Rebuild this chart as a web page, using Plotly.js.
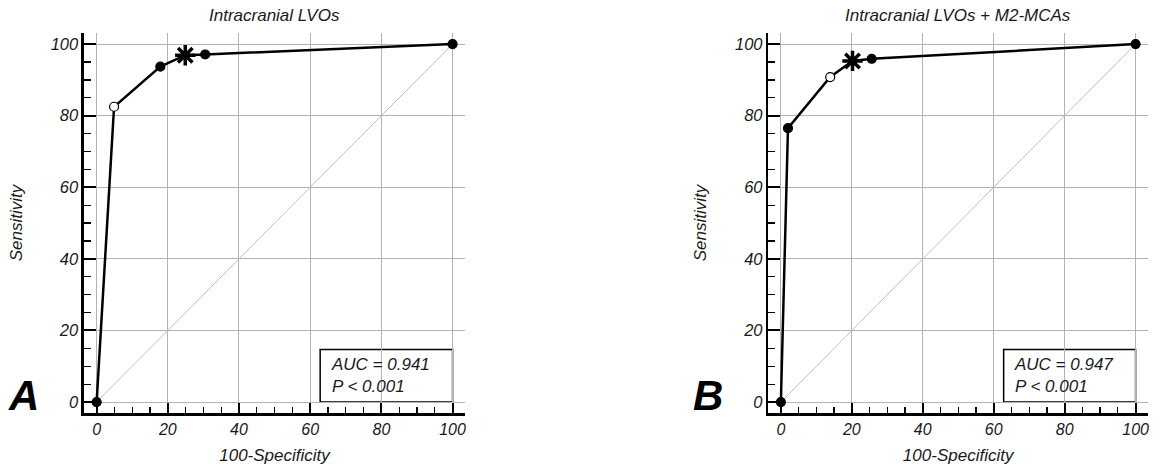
<!DOCTYPE html>
<html>
<head>
<meta charset="utf-8">
<script src="https://cdn.plot.ly/plotly-3.0.1.min.js"></script>
<style>html,body{margin:0;padding:0;background:#fff;}#chart{width:1160px;height:471px;}</style>
</head>
<body>
<div id="chart"></div>
<script>
// ---- data ----
var panelTitles = ["Intracranial LVOs", "Intracranial LVOs + M2-MCAs"];
var panelLetters = ["A", "B"];
var fprA = [0, 4.9, 17.9, 24.9, 30.5, 100];
var sensA = [0, 82.5, 93.7, 96.9, 97.1, 100];
var markA = ["filled", "open", "filled", "star", "filled", "filled"];
var fprB = [0, 2.0, 13.9, 20.2, 25.6, 100];
var sensB = [0, 76.5, 90.8, 95.3, 95.9, 100];
var markB = ["filled", "filled", "open", "star", "filled", "filled"];
var aucText = ["AUC = 0.941", "AUC = 0.947"];
var pText = ["P < 0.001", "P < 0.001"];
var refLine = [0, 100];
var tickVals = [0, 20, 40, 60, 80, 100];

var FONT = "Liberation Sans, Arial, Helvetica, sans-serif";
var INK = "#000";
var TXT = "#1a1a1a";

function symbolOf(m){ return m === "star" ? "asterisk-open" : "circle"; }
function colorOf(m){ return m === "open" ? "#ffffff" : INK; }
function sizeOf(m){ return m === "star" ? 17 : 9; }
function lwOf(m){ return m === "star" ? 3.5 : 1.2; }

function curve(xs, ys, ms, xa, ya){
  return {
    type: "scatter", mode: "lines+markers", x: xs, y: ys, xaxis: xa, yaxis: ya,
    line: {color: INK, width: 2.5},
    marker: {symbol: ms.map(symbolOf), color: ms.map(colorOf), size: ms.map(sizeOf), opacity: 1,
             line: {color: INK, width: ms.map(lwOf)}},
    showlegend: false, hoverinfo: "x+y"
  };
}
function diag(xa, ya){
  return {type: "scatter", mode: "lines", x: refLine, y: refLine, xaxis: xa, yaxis: ya,
    line: {color: "#bdbdbd", width: 1}, showlegend: false, hoverinfo: "skip"};
}

var data = [
  diag("x", "y"), curve(fprA, sensA, markA, "x", "y"),
  diag("x2", "y2"), curve(fprB, sensB, markB, "x2", "y2")
];

function xAxis(dom){
  return {
    domain: dom, range: [-3.55, 103.5], tickvals: tickVals,
    ticks: "inside", ticklen: 10, tickwidth: 2, tickcolor: INK,
    showline: true, linewidth: 2.5, linecolor: INK,
    showgrid: true, gridcolor: "#b3b3b3", gridwidth: 1, zeroline: false,
    minor: {dtick: 5, tick0: 0, ticks: "inside", ticklen: 6, tickwidth: 1.3, tickcolor: INK, showgrid: false},
    tickfont: {family: FONT, size: 16, color: TXT, style: "italic"},
    title: {text: "100-Specificity", font: {family: FONT, size: 17, color: TXT, style: "italic"}, standoff: 13},
    fixedrange: true
  };
}
function yAxis(anchor){
  return {
    domain: [0, 1], range: [-3.05, 103.1], tickvals: tickVals, anchor: anchor,
    ticks: "inside", ticklen: 12, tickwidth: 2, tickcolor: INK,
    showline: true, linewidth: 2.5, linecolor: INK,
    showgrid: true, gridcolor: "#b3b3b3", gridwidth: 1, zeroline: false,
    minor: {dtick: 5, tick0: 0, ticks: "inside", ticklen: 7, tickwidth: 1.3, tickcolor: INK, showgrid: false},
    tickfont: {family: FONT, size: 16.5, color: TXT, style: "italic"},
    title: {text: "Sensitivity", font: {family: FONT, size: 17, color: TXT, style: "italic"}, standoff: 24},
    fixedrange: true
  };
}

var annotations = [];
var shapes = [];
var letterX = [-0.031, 0.5875];
["x", "x2"].forEach(function(xa, i){
  var ya = i === 0 ? "y" : "y2";
  annotations.push({xref: xa + " domain", yref: "paper", x: 0.5, y: 1.045, xanchor: "center", yanchor: "middle",
    text: panelTitles[i], showarrow: false, font: {family: FONT, size: 17, color: TXT, style: "italic"}});
  annotations.push({xref: "paper", yref: "paper", x: letterX[i], y: 0.045, xanchor: "left", yanchor: "middle",
    text: "<b><i>" + panelLetters[i] + "</i></b>", showarrow: false, font: {family: FONT, size: 42, color: "#000"}});
  annotations.push({xref: xa, yref: ya, x: 65.3, y: 7.4, xanchor: "left", yanchor: "middle", align: "left",
    text: aucText[i] + "<br>" + pText[i], showarrow: false,
    font: {family: FONT, size: 17, color: TXT, style: "italic"}});
  shapes.push({type: "rect", xref: xa, yref: ya, x0: 62.8, x1: 100, y0: 0, y1: 14.7,
    line: {color: INK, width: 1.5}, fillcolor: "rgba(255,255,255,1)", layer: "below"});
});

var layout = {
  width: 1160, height: 471,
  margin: {l: 40, r: 12, t: 33, b: 58.3},
  paper_bgcolor: "#fff", plot_bgcolor: "#fff",
  xaxis: xAxis([0.0397, 0.3836]), yaxis: yAxis("x"),
  xaxis2: xAxis([0.6573, 1.0]), yaxis2: yAxis("x2"),
  annotations: annotations, shapes: shapes, showlegend: false
};
layout.xaxis.anchor = "y";
layout.xaxis2.anchor = "y2";

Plotly.newPlot("chart", data, layout, {displayModeBar: false, staticPlot: true});
</script>
</body>
</html>
